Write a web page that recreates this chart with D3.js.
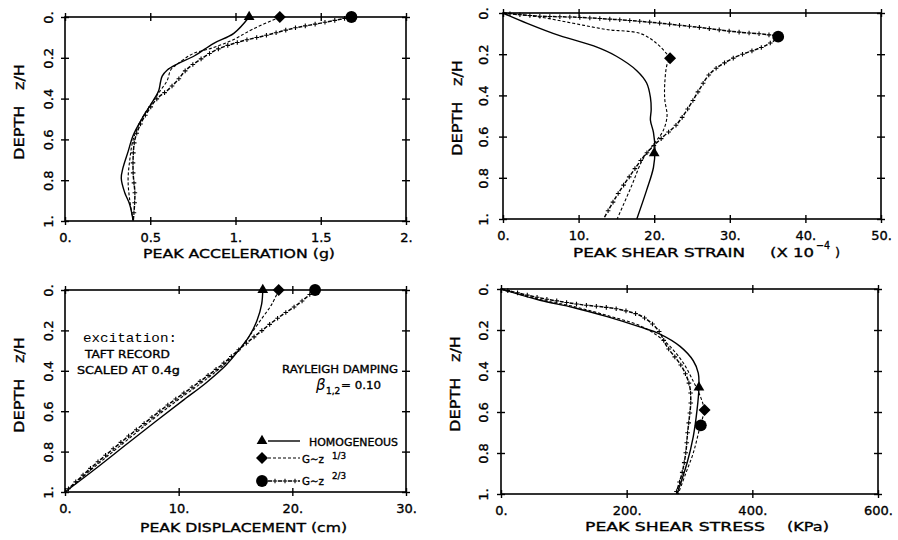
<!DOCTYPE html>
<html>
<head>
<meta charset="utf-8">
<script src="https://cdn.jsdelivr.net/npm/d3@7"></script>
<style>
body { margin: 0; background: #fff; }
text { white-space: pre; }
</style>
</head>
<body>
<svg id="chart" width="898" height="540"></svg>
<script>
// depth axis (z/H), shared by all four panels
var depthTicks = [0, 0.2, 0.4, 0.6, 0.8, 1];
var depthLabels = ["0.", "0.2", "0.4", "0.6", "0.8", "1."];

// series are [value, depth] pairs
var accelHomog = [[1.08,0],[0.99,0.08],[0.87,0.13],[0.76,0.19],[0.66,0.23],[0.60,0.26],[0.57,0.29],[0.56,0.32],[0.55,0.36],[0.51,0.42],[0.45,0.50],[0.40,0.58],[0.37,0.66],[0.34,0.74],[0.33,0.79],[0.35,0.86],[0.38,0.92],[0.40,1.0]];
var accelZ13 = [[1.26,0],[1.10,0.06],[0.99,0.11],[0.87,0.15],[0.75,0.18],[0.66,0.23],[0.62,0.26],[0.60,0.31],[0.56,0.36],[0.51,0.42],[0.45,0.50],[0.40,0.60],[0.38,0.70],[0.37,0.80],[0.38,0.90],[0.40,1.0]];
var accelZ23 = [[1.68,0],[1.50,0.03],[1.34,0.055],[1.18,0.09],[1.03,0.12],[0.89,0.16],[0.79,0.21],[0.71,0.26],[0.66,0.31],[0.60,0.36],[0.54,0.40],[0.48,0.47],[0.44,0.53],[0.41,0.60],[0.40,0.68],[0.40,0.77],[0.41,0.87],[0.40,1.0]];
var accelMarks = [[1.08,0],[1.26,0],[1.68,0]];

var strainHomog = [[0,0],[3.2,0.05],[7.5,0.11],[12,0.16],[15,0.21],[17.7,0.28],[19,0.34],[19.5,0.41],[19.6,0.47],[19.5,0.52],[19.9,0.58],[20.1,0.66],[19.9,0.75],[19,0.86],[17.7,1.0]];
var strainZ13 = [[0,0],[4.9,0.02],[9.3,0.05],[13.7,0.08],[18.2,0.10],[20.4,0.15],[21.7,0.20],[22.1,0.22],[21.7,0.25],[21.4,0.34],[21.4,0.42],[21.7,0.50],[21.2,0.57],[20.3,0.62],[18.5,0.71],[17,0.84],[15.1,1.0]];
var strainZ23 = [[0,0],[4.5,0.015],[9.3,0.02],[18,0.04],[26,0.07],[30.4,0.09],[34.9,0.105],[36.4,0.115],[34.9,0.155],[30.4,0.22],[27.5,0.29],[26,0.37],[24.7,0.45],[23,0.54],[21.2,0.60],[19,0.68],[16.8,0.79],[15,0.89],[13.3,1.0]];
var strainMarks = [[20,0.68],[22.1,0.22],[36.4,0.115]];

var dispHomog = [[17.4,0],[17.3,0.07],[16.9,0.15],[16.2,0.23],[15.4,0.29],[14.2,0.37],[12.4,0.46],[10.3,0.55],[8.0,0.65],[5.5,0.76],[2.8,0.88],[0,1]];
var dispZ13 = [[18.8,0],[18.2,0.07],[17.2,0.15],[16.2,0.23],[15.4,0.29],[14.0,0.37],[12.0,0.46],[9.8,0.55],[7.5,0.65],[5.1,0.76],[2.5,0.88],[0,1]];
var dispZ23 = [[22,0],[20.5,0.07],[18.7,0.14],[16.9,0.22],[15.4,0.29],[13.8,0.37],[11.7,0.46],[9.5,0.55],[7.2,0.65],[4.8,0.76],[2.3,0.88],[0,1]];
var dispMarks = [[17.4,0],[18.8,0],[22,0]];

var stressHomog = [[0,0],[62,0.055],[115,0.09],[169,0.135],[221,0.185],[253,0.22],[285,0.28],[306,0.35],[314,0.41],[315,0.48],[312,0.59],[306,0.72],[296,0.85],[280,1.0]];
var stressZ13 = [[0,0],[60,0.05],[115,0.085],[170,0.13],[222,0.18],[250,0.23],[269,0.28],[290,0.36],[306,0.45],[318,0.53],[323,0.59],[316,0.68],[306,0.8],[294,0.9],[282,1.0]];
var stressZ23 = [[0,0],[65,0.045],[125,0.075],[189,0.10],[225,0.135],[250,0.2],[264,0.28],[288,0.38],[300,0.47],[302,0.55],[300,0.62],[297,0.7],[294,0.8],[288,0.9],[278,1.0]];
var stressMarks = [[315,0.48],[324,0.59],[318,0.665]];

var FONT = "DejaVu Sans";
var svg = d3.select("#chart");

var panels = [
  {left: 65, right: 406, top: 17, bottom: 221, xDomain: [0, 2],
   xTicks: [0, 0.5, 1, 1.5, 2], xLabels: ["0.", "0.5", "1.", "1.5", "2."], yLabOff: 17,
   series: [accelHomog, accelZ13, accelZ23], marks: accelMarks},
  {left: 503, right: 881, top: 13, bottom: 219, xDomain: [0, 50],
   xTicks: [0, 10, 20, 30, 40, 50], xLabels: ["0.", "10.", "20.", "30.", "40.", "50."], yLabOff: 20,
   series: [strainHomog, strainZ13, strainZ23], marks: strainMarks},
  {left: 65, right: 406, top: 290, bottom: 492, xDomain: [0, 30],
   xTicks: [0, 10, 20, 30], xLabels: ["0.", "10.", "20.", "30."], yLabOff: 17,
   series: [dispHomog, dispZ13, dispZ23], marks: dispMarks},
  {left: 501, right: 878, top: 289, bottom: 494, xDomain: [0, 600],
   xTicks: [0, 200, 400, 600], xLabels: ["0.", "200.", "400.", "600."], yLabOff: 18,
   series: [stressHomog, stressZ13, stressZ23], marks: stressMarks}
];

function addText(x, y, str, size, opts) {
  opts = opts || {};
  var t = svg.append("text")
    .attr("x", x).attr("y", y)
    .attr("font-family", opts.family || FONT)
    .attr("font-size", size)
    .attr("fill", "#000")
    .attr("stroke", "#000").attr("stroke-width", opts.thin ? 0 : 0.35)
    .attr("text-anchor", opts.anchor || "start")
    .text(str);
  if (opts.len) t.attr("textLength", opts.len).attr("lengthAdjust", "spacingAndGlyphs");
  if (opts.style) t.attr("font-style", opts.style);
  return t;
}

// series styles: 0 solid, 1 fine dashed, 2 dashed with "+" marks
function drawSeries(g, pts, kind, x, y) {
  var line = d3.line()
    .x(function(d) { return x(d[0]); })
    .y(function(d) { return y(d[1]); })
    .curve(d3.curveCatmullRom.alpha(0.5));
  var path = g.append("path").datum(pts)
    .attr("d", line)
    .attr("fill", "none")
    .attr("stroke", "#000");
  styleLine(g, path, kind);
}

function styleLine(g, path, kind) {
  if (kind == 0) path.attr("stroke-width", 1.4);
  if (kind == 1) path.attr("stroke-width", 1.1).attr("stroke-dasharray", "3,2");
  if (kind == 2) {
    path.attr("stroke-width", 1.5).attr("stroke-dasharray", "4,6");
    addPlusMarks(g, path.node());
  }
}

function addPlusMarks(g, node) {
  var L = node.getTotalLength();
  for (var s = 7; s < L - 2; s += 10) {
    var p = node.getPointAtLength(s);
    g.append("path")
      .attr("d", "M" + (p.x - 2.3) + "," + p.y + "h4.6M" + p.x + "," + (p.y - 2.3) + "v4.6")
      .attr("stroke", "#000").attr("stroke-width", 1.1);
  }
}

function drawMarker(g, kind, cx, cy) {
  var sym;
  if (kind == 0) sym = d3.symbol().type(d3.symbolTriangle).size(50);
  if (kind == 1) sym = d3.symbol().type(d3.symbolSquare).size(72);
  if (kind == 2) sym = d3.symbol().type(d3.symbolCircle).size(110);
  g.append("path")
    .attr("d", sym())
    .attr("transform", "translate(" + cx + "," + cy + ")" + (kind == 1 ? " rotate(45)" : ""))
    .attr("fill", "#000");
}

panels.forEach(function(p) {
  var x = d3.scaleLinear().domain(p.xDomain).range([p.left, p.right]);
  var y = d3.scaleLinear().domain([0, 1]).range([p.top, p.bottom]);
  var g = svg.append("g");

  g.append("rect")
    .attr("x", p.left).attr("y", p.top)
    .attr("width", p.right - p.left).attr("height", p.bottom - p.top)
    .attr("fill", "none").attr("stroke", "#000").attr("stroke-width", 1.6);

  var bottom = g.append("g")
    .attr("transform", "translate(0," + p.bottom + ")")
    .call(d3.axisBottom(x).tickValues(p.xTicks).tickFormat(function(d, i) { return p.xLabels[i]; }));
  var top = g.append("g")
    .attr("transform", "translate(0," + p.top + ")")
    .call(d3.axisTop(x).tickValues(p.xTicks).tickFormat(""));
  var left = g.append("g")
    .attr("transform", "translate(" + p.left + ",0)")
    .call(d3.axisLeft(y).tickValues(depthTicks).tickFormat(function(d, i) { return depthLabels[i]; }));
  var right = g.append("g")
    .attr("transform", "translate(" + p.right + ",0)")
    .call(d3.axisRight(y).tickValues(depthTicks).tickFormat(""));

  [bottom, top, left, right].forEach(function(a) {
    a.select(".domain").remove();
    a.selectAll(".tick line").attr("stroke-width", 1.4);
  });
  bottom.selectAll(".tick line").attr("y1", -4).attr("y2", 4);
  top.selectAll(".tick line").attr("y1", -4).attr("y2", 4);
  left.selectAll(".tick line").attr("x1", -4).attr("x2", 4);
  right.selectAll(".tick line").attr("x1", -4).attr("x2", 4);

  bottom.selectAll(".tick text")
    .attr("y", 21).attr("dy", null)
    .attr("font-family", FONT).attr("font-size", 13).attr("fill", "#000")
    .attr("stroke", "#000").attr("stroke-width", 0.35);
  left.selectAll(".tick text")
    .attr("x", 0).attr("dy", "0.36em")
    .attr("text-anchor", "middle")
    .attr("transform", "translate(" + (-p.yLabOff) + ",0) rotate(-90)")
    .attr("font-family", FONT).attr("font-size", 13).attr("fill", "#000")
    .attr("stroke", "#000").attr("stroke-width", 0.35);

  p.series.forEach(function(s, i) { drawSeries(g, s, i, x, y); });
  p.marks.forEach(function(m, i) { drawMarker(g, i, x(m[0]), y(m[1])); });

  // depth title
  g.append("text")
    .attr("transform", "translate(" + (p.left - 41) + "," + (p.top + 95) + ") rotate(-90)")
    .attr("text-anchor", "middle")
    .attr("font-family", FONT).attr("font-size", 14)
    .attr("stroke", "#000").attr("stroke-width", 0.35)
    .attr("textLength", 96).attr("lengthAdjust", "spacingAndGlyphs")
    .text("DEPTH   z/H");
});

// x axis titles
addText(143, 258, "PEAK ACCELERATION (g)", 13, {len: 192});
addText(573, 257, "PEAK SHEAR STRAIN", 13, {len: 172});
addText(770, 257, "(X 10", 13, {len: 44});
addText(816, 249, "\u22124", 11, {len: 14});
addText(835, 257, ")", 13);
addText(140, 532, "PEAK DISPLACEMENT (cm)", 13, {len: 207});
addText(585, 531, "PEAK SHEAR STRESS", 13, {len: 180});
addText(787, 531, "(KPa)", 13, {len: 42});

// annotations in the displacement panel
addText(83, 342, "excitation:", 13, {family: "Liberation Mono", len: 94, thin: true});
addText(85, 358, "TAFT RECORD", 11, {len: 85});
addText(77, 374, "SCALED AT 0.4g", 11, {len: 103});
addText(282, 373, "RAYLEIGH DAMPING", 11, {len: 116});
addText(316, 390, "\u03b2", 15, {style: "italic", thin: true});
addText(326, 394, "1,2", 9);
addText(341, 389, "= 0.10", 11, {len: 40});

// legend
var legendNames = ["HOMOGENEOUS", "G\u223cz", "G\u223cz"];
var legendSup = ["", "1/3", "2/3"];
var legendRows = [441, 458, 481];
var lg = svg.append("g");
legendRows.forEach(function(ly, i) {
  var path = lg.append("path")
    .attr("d", d3.line()([[268, ly], [300, ly]]))
    .attr("fill", "none").attr("stroke", "#000");
  styleLine(lg, path, i);
  drawMarker(lg, i, 262, ly);
});
addText(309, 446, legendNames[0], 11, {len: 89});
addText(302, 463, legendNames[1], 11, {len: 22});
addText(332, 459, legendSup[1], 9, {len: 14});
addText(302, 485, legendNames[2], 11, {len: 22});
addText(332, 479, legendSup[2], 9, {len: 14});
</script>
</body>
</html>
